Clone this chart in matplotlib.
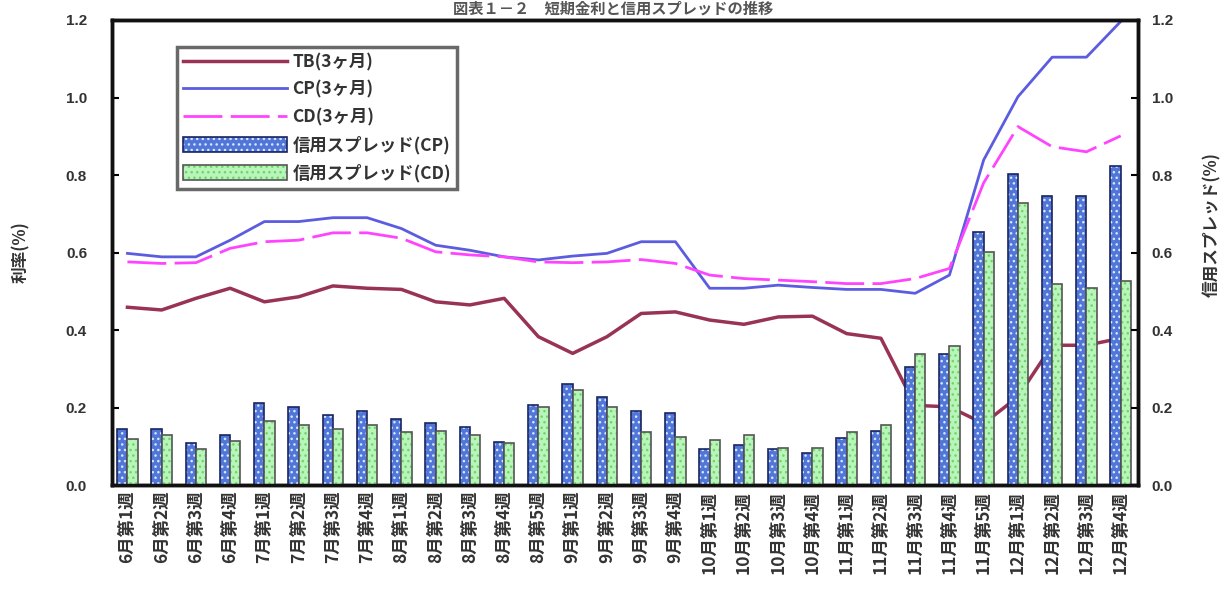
import matplotlib
matplotlib.use("Agg")
import matplotlib.pyplot as plt
from matplotlib.legend_handler import HandlerTuple
import numpy as np

plt.rcParams['font.family'] = ['Noto Sans CJK JP', 'DejaVu Sans']
plt.rcParams['hatch.linewidth'] = 1.0

# 週ラベル
weeks = ["6月第1週", "6月第2週", "6月第3週", "6月第4週",
         "7月第1週", "7月第2週", "7月第3週", "7月第4週",
         "8月第1週", "8月第2週", "8月第3週", "8月第4週", "8月第5週",
         "9月第1週", "9月第2週", "9月第3週", "9月第4週",
         "10月第1週", "10月第2週", "10月第3週", "10月第4週",
         "11月第1週", "11月第2週", "11月第3週", "11月第4週", "11月第5週",
         "12月第1週", "12月第2週", "12月第3週", "12月第4週"]

# 金利 (%)
tb = [0.459, 0.452, 0.482, 0.508, 0.473, 0.486, 0.514, 0.508, 0.505, 0.473,
      0.465, 0.482, 0.383, 0.340, 0.383, 0.443, 0.447, 0.426, 0.415, 0.434,
      0.436, 0.391, 0.379, 0.206, 0.202, 0.159, 0.228, 0.361, 0.361, 0.379]
cp = [0.598, 0.589, 0.589, 0.632, 0.680, 0.680, 0.690, 0.690, 0.662, 0.619,
      0.606, 0.589, 0.581, 0.591, 0.598, 0.628, 0.628, 0.508, 0.508, 0.516,
      0.510, 0.505, 0.505, 0.495, 0.542, 0.839, 1.002, 1.104, 1.104, 1.196]
cd = [0.576, 0.572, 0.574, 0.611, 0.628, 0.632, 0.651, 0.651, 0.637, 0.602,
      0.594, 0.589, 0.576, 0.574, 0.576, 0.582, 0.572, 0.542, 0.533, 0.529,
      0.525, 0.520, 0.520, 0.533, 0.559, 0.780, 0.925, 0.873, 0.860, 0.901]

# 信用スプレッド (%)
spread_cp = [0.145, 0.145, 0.108, 0.129, 0.211, 0.202, 0.182, 0.191, 0.172, 0.161,
             0.151, 0.112, 0.206, 0.262, 0.228, 0.191, 0.185, 0.093, 0.104, 0.093,
             0.082, 0.123, 0.140, 0.305, 0.339, 0.652, 0.802, 0.745, 0.745, 0.823]
spread_cd = [0.119, 0.129, 0.093, 0.114, 0.165, 0.155, 0.145, 0.155, 0.138, 0.140,
             0.129, 0.108, 0.202, 0.245, 0.202, 0.138, 0.125, 0.117, 0.129, 0.095,
             0.095, 0.138, 0.155, 0.339, 0.359, 0.601, 0.729, 0.519, 0.508, 0.528]

x = np.arange(len(weeks))
yticks = [0.0, 0.2, 0.4, 0.6, 0.8, 1.0, 1.2]
tick_font = dict(family='Liberation Sans', fontweight='bold', fontsize=11, color='#333333')

fig = plt.figure(figsize=(12.27, 6.05), dpi=100)
ax = fig.add_axes([0.0913, 0.198, 0.836, 0.769])

l_tb, = ax.plot(x, tb, color='#993355', lw=2.5)
l_cp, = ax.plot(x, cp, color='#5c5ce0', lw=2.0)
l_cd, = ax.plot(x, cd, color='#ff44ff', lw=2.0, dashes=(14, 3))

ax.set_xlim(-0.45, len(weeks) - 0.5)
ax.set_ylim(0, 1.2)
ax.set_yticks(yticks)
ax.set_yticklabels([f"{v:.1f}" for v in yticks], **tick_font)
ax.tick_params(axis='y', direction='in', length=5, width=1.5, pad=18)
ax.set_xticks(x)
ax.set_xticklabels(weeks, rotation=90, va='top', ha='center', fontsize=12.5,
                   fontweight='bold', color='#333333')
ax.tick_params(axis='x', length=0, pad=4)
for s in ax.spines.values():
    s.set_linewidth(2.5)
    s.set_color('#111111')
ax.set_ylabel('利率(%)', fontsize=12, fontweight='bold', color='#333333', labelpad=26)

# スプレッドは右軸 (棒を線より手前に)
ax2 = ax.twinx()
w = 0.3
b_cp = ax2.bar(x - w / 2, spread_cp, w, color='#5077d8', edgecolor='#dbe6ff',
               hatch='...', lw=0)
b_cp_e = ax2.bar(x - w / 2, spread_cp, w, fill=False, edgecolor='#1a2560', lw=1.2)
b_cd = ax2.bar(x + w / 2, spread_cd, w, color='#b8f5b8', edgecolor='#6fd46f',
               hatch='...', lw=0)
b_cd_e = ax2.bar(x + w / 2, spread_cd, w, fill=False, edgecolor='#555555', lw=1.2)
ax2.set_ylim(0, 1.2)
ax2.set_yticks(yticks)
ax2.set_yticklabels([f"{v:.1f}" for v in yticks], **tick_font)
ax2.tick_params(axis='y', direction='in', length=5, width=1.5, pad=10)
ax2.set_ylabel('信用スプレッド(%)', fontsize=12, fontweight='bold', color='#333333',
               rotation=90)
ax2.yaxis.set_label_coords(1.064, 0.56)
for s in ax2.spines.values():
    s.set_linewidth(2.5)
    s.set_color('#111111')

leg = ax2.legend([l_tb, l_cp, l_cd, (b_cp, b_cp_e), (b_cd, b_cd_e)],
                 ['TB(3ヶ月)', 'CP(3ヶ月)', 'CD(3ヶ月)', '信用スプレッド(CP)', '信用スプレッド(CD)'],
                 handler_map={tuple: HandlerTuple(ndivide=1)},
                 loc='upper left', bbox_to_anchor=(0.055, 0.96), fancybox=False,
                 handlelength=6.0, handleheight=0.9, borderpad=0.35, labelspacing=0.55,
                 handletextpad=0.3, prop={'size': 12.5, 'weight': 'bold'})
leg.get_frame().set_edgecolor('#444444')
leg.get_frame().set_linewidth(2.5)
for t in leg.get_texts():
    t.set_color('#333333')

fig.text(0.50, 0.985, '図表１－２　短期金利と信用スプレッドの推移', ha='center', va='center',
         fontsize=11, fontweight='bold', color='#555555')

fig.savefig('out.png', dpi=100)
